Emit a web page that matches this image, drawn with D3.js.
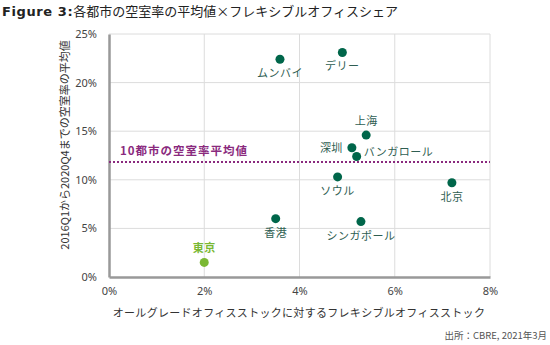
<!DOCTYPE html>
<html>
<head>
<meta charset="utf-8">
<script src="https://cdn.jsdelivr.net/npm/d3@7"></script>
<style>
  body { margin: 0; background: #fff; }
  svg { display: block; font-family: "Noto Sans CJK JP", "Noto Sans", sans-serif; }
</style>
</head>
<body>
<script>
// data
const cities = ['ムンバイ', 'デリー', '上海', '深圳', 'バンガロール', 'ソウル', '北京', '香港', 'シンガポール', '東京']
const flexShare = [3.59, 4.90, 5.40, 5.10, 5.20, 4.80, 7.20, 3.50, 5.29, 2.00]
const vacancy = [22.4, 23.1, 14.6, 13.3, 12.4, 10.3, 9.7, 6.0, 5.7, 1.5]
// where each label sits relative to its dot
const labelPos = ['below', 'below', 'above', 'left', 'right', 'below', 'below', 'below', 'below', 'above']
const avgVacancy = 11.83
const xTicks = [0, 2, 4, 6, 8]
const yTicks = [0, 5, 10, 15, 20, 25]

const w = 550
const h = 345
const m = {left: 109, right: 60, top: 34, bottom: 68}

const svg = d3.select('body').append('svg')
  .attr('width', w)
  .attr('height', h)

const x = d3.scaleLinear().domain([0, 8]).range([m.left, w - m.right])
const y = d3.scaleLinear().domain([0, 25]).range([h - m.bottom, m.top])

// title
const title = svg.append('text')
  .attr('x', 2)
  .attr('y', 16)
  .style('font-size', '13px')
  .style('fill', '#222')
title.append('tspan')
  .text('Figure 3:')
  .style('font-family', '"DejaVu Sans", sans-serif')
  .style('font-weight', 'bold')
  .style('letter-spacing', '0.6px')
title.append('tspan').text('各都市の空室率の平均値×フレキシブルオフィスシェア')

// grid
svg.append('g')
  .selectAll('line.vg')
  .data(xTicks.slice(1))
  .enter()
  .append('line')
  .attr('x1', d => x(d)).attr('x2', d => x(d))
  .attr('y1', y(25)).attr('y2', y(0))
  .style('stroke', '#dcdcdc')
  .style('stroke-width', 1)

svg.append('g')
  .selectAll('line.hg')
  .data(yTicks.slice(1))
  .enter()
  .append('line')
  .attr('x1', x(0)).attr('x2', x(8))
  .attr('y1', d => y(d)).attr('y2', d => y(d))
  .style('stroke', '#dcdcdc')
  .style('stroke-width', 1)

// axes
const xAxis = svg.append('g')
  .attr('transform', `translate(0,${y(0)})`)
  .call(d3.axisBottom(x).tickValues(xTicks).tickSize(0).tickPadding(10).tickFormat(d => d + '%'))
const yAxis = svg.append('g')
  .attr('transform', `translate(${x(0)},0)`)
  .call(d3.axisLeft(y).tickValues(yTicks).tickSize(0).tickPadding(12).tickFormat(d => d + '%'))

xAxis.select('.domain').style('stroke', '#999').style('stroke-width', 2.5)
yAxis.select('.domain').style('stroke', '#999').style('stroke-width', 2.5)
svg.selectAll('.tick text')
  .style('font-family', '"Noto Sans", sans-serif')
  .style('font-size', '11px')
  .style('fill', '#444')

// average line
svg.append('line')
  .attr('x1', x(0)).attr('x2', x(8))
  .attr('y1', y(avgVacancy)).attr('y2', y(avgVacancy))
  .style('stroke', '#8a2a7e')
  .style('stroke-width', 2)
  .style('stroke-dasharray', '2,2')

svg.append('text')
  .attr('x', 120)
  .attr('y', y(avgVacancy) - 7)
  .style('font-size', '11.5px')
  .style('font-weight', 'bold')
  .style('fill', '#8a2a7e')
  .style('letter-spacing', '1px')
  .text('10都市の空室率平均値')

// points
const pts = cities.map((c, i) => ({name: c, fx: flexShare[i], vy: vacancy[i], pos: labelPos[i]}))

svg.selectAll('circle.pt')
  .data(pts)
  .enter()
  .append('circle')
  .attr('cx', d => x(d.fx))
  .attr('cy', d => y(d.vy))
  .attr('r', 4.5)
  .style('fill', d => d.name === '東京' ? '#7ab833' : '#00664a')

svg.selectAll('text.lbl')
  .data(pts)
  .enter()
  .append('text')
  .attr('x', d => {
    if (d.pos === 'left') return x(d.fx) - 9
    if (d.pos === 'right') return x(d.fx) + 7
    return x(d.fx)
  })
  .attr('y', d => {
    if (d.pos === 'below') return y(d.vy) + 18
    if (d.pos === 'above') return y(d.vy) - 10
    if (d.pos === 'right') return y(d.vy) - 0.5
    return y(d.vy) + 4
  })
  .attr('text-anchor', d => d.pos === 'left' ? 'end' : (d.pos === 'right' ? 'start' : 'middle'))
  .style('font-size', '11px')
  .style('font-weight', d => d.name === '東京' ? 'bold' : 'normal')
  .style('fill', d => d.name === '東京' ? '#7ab833' : '#2f5e52')
  .style('letter-spacing', '0.5px')
  .text(d => d.name)

// axis titles
svg.append('text')
  .attr('transform', 'translate(69,145) rotate(-90)')
  .attr('text-anchor', 'middle')
  .style('font-size', '11px')
  .style('fill', '#333')
  .text('2016Q1から2020Q4までの空室率の平均値')

svg.append('text')
  .attr('x', 299)
  .attr('y', 317)
  .attr('text-anchor', 'middle')
  .style('font-size', '11px')
  .style('fill', '#333')
  .style('letter-spacing', '0.3px')
  .text('オールグレードオフィスストックに対するフレキシブルオフィスストック')

svg.append('text')
  .attr('x', 547)
  .attr('y', 339)
  .attr('text-anchor', 'end')
  .style('font-size', '9.5px')
  .style('fill', '#555')
  .text('出所：CBRE, 2021年3月')
</script>
</body>
</html>
